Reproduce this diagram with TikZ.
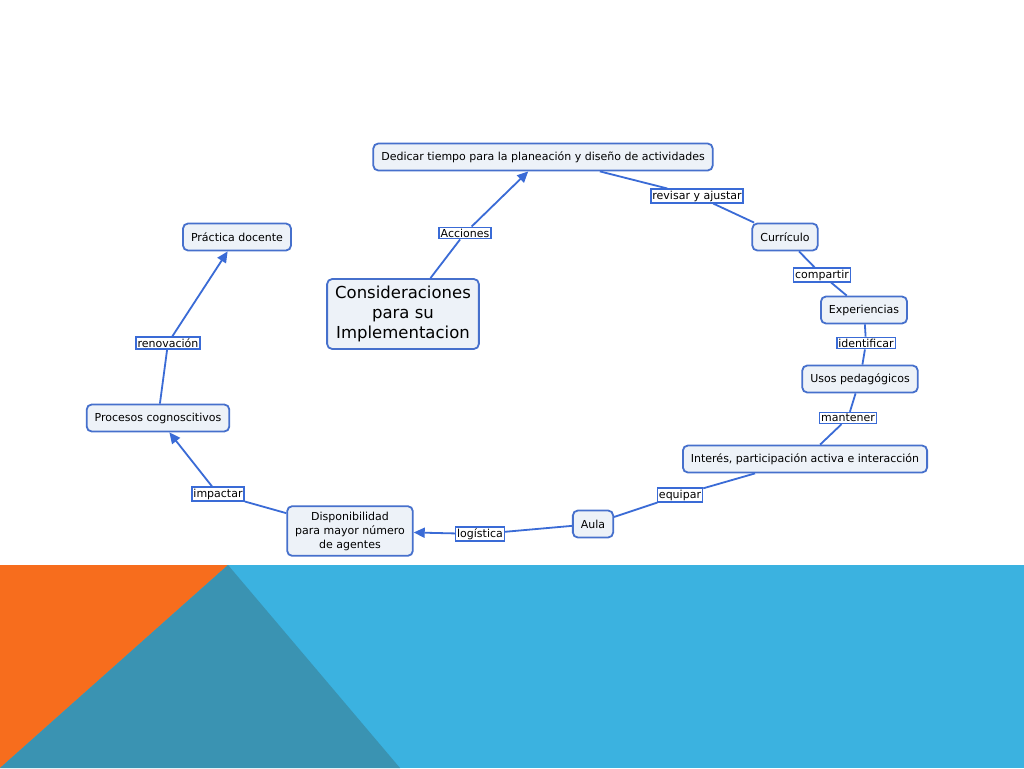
\documentclass[tikz,border=0pt]{standalone}
\usepackage{fontspec}
\setmainfont{DejaVu Sans}
\usetikzlibrary{arrows.meta}
\definecolor{azul}{HTML}{3A6BD6}
\definecolor{borde}{HTML}{4670CC}
\definecolor{relleno}{HTML}{EDF2F8}
\definecolor{naranja}{HTML}{F76D1D}
\definecolor{petroleo}{HTML}{3A93B2}
\definecolor{celeste}{HTML}{3BB2E0}
\begin{document}
\begin{tikzpicture}[x=1pt,y=-1pt,
  concepto/.style={draw=borde,fill=relleno,line width=1.8pt,rounded corners=5pt,
    inner xsep=8pt,inner ysep=4pt,minimum height=27pt,
    font=\fontsize{11}{14}\selectfont,align=center},
  enlace/.style={draw=azul,fill=white,line width=1.4pt,inner xsep=1.5pt,inner ysep=1.5pt,
    font=\fontsize{11}{13}\selectfont},
  union/.style={draw=azul,line width=1.8pt},
  flecha/.style={union,-{Triangle[length=11pt,width=10pt]}}]
% fondo
\fill[white] (0,0) rectangle (1024,768);
\fill[celeste] (0,565) rectangle (1024,768);
\fill[naranja] (0,565) -- (228,565) -- (0,768) -- cycle;
\fill[petroleo] (228,565) -- (400,768) -- (0,768) -- cycle;
% conceptos
\node[concepto] (ded) at (543,157) {Dedicar tiempo para la planeación y diseño de actividades};
\node[concepto,font=\fontsize{16.5}{20}\selectfont,inner ysep=7pt] (con) at (403,314) {Consideraciones\\para su\\Implementacion};
\node[concepto] (cur) at (785,237) {Currículo};
\node[concepto] (exp) at (864,310) {Experiencias};
\node[concepto] (uso) at (860,379) {Usos pedagógicos};
\node[concepto] (int) at (805,459) {Interés, participación activa e interacción};
\node[concepto] (aul) at (593,524) {Aula};
\node[concepto,inner ysep=5.5pt] (dis) at (350,531) {Disponibilidad\\para mayor número\\de agentes};
\node[concepto] (pro) at (158,418) {Procesos cognoscitivos};
\node[concepto] (pra) at (237,237) {Práctica docente};
% enlaces
\node[enlace] (acc) at (465,233) {Acciones};
\node[enlace] (rev) at (697,196) {revisar y ajustar};
\node[enlace] (com) at (822,275) {compartir};
\node[enlace] (ide) at (866,343) {identificar};
\node[enlace] (man) at (848,418) {mantener};
\node[enlace] (equ) at (680,495) {equipar};
\node[enlace] (log) at (480,534) {logística};
\node[enlace] (imp) at (218,494) {impactar};
\node[enlace] (ren) at (168,343) {renovación};
% conectores
\draw[union] (con) -- (acc);
\draw[flecha] (acc) -- (ded);
\draw[union] (ded) -- (rev);
\draw[union] (rev) -- (cur);
\draw[union] (cur) -- (com);
\draw[union] (com) -- (exp);
\draw[union] (exp) -- (ide);
\draw[union] (ide) -- (uso);
\draw[union] (uso) -- (man);
\draw[union] (man) -- (int);
\draw[union] (int) -- (equ);
\draw[union] (equ) -- (aul);
\draw[union] (aul) -- (log);
\draw[flecha] (log) -- (dis);
\draw[union] (dis) -- (imp);
\draw[flecha] (imp) -- (pro);
\draw[union] (pro) -- (ren);
\draw[flecha] (ren) -- (pra);
\end{tikzpicture}
\end{document}
